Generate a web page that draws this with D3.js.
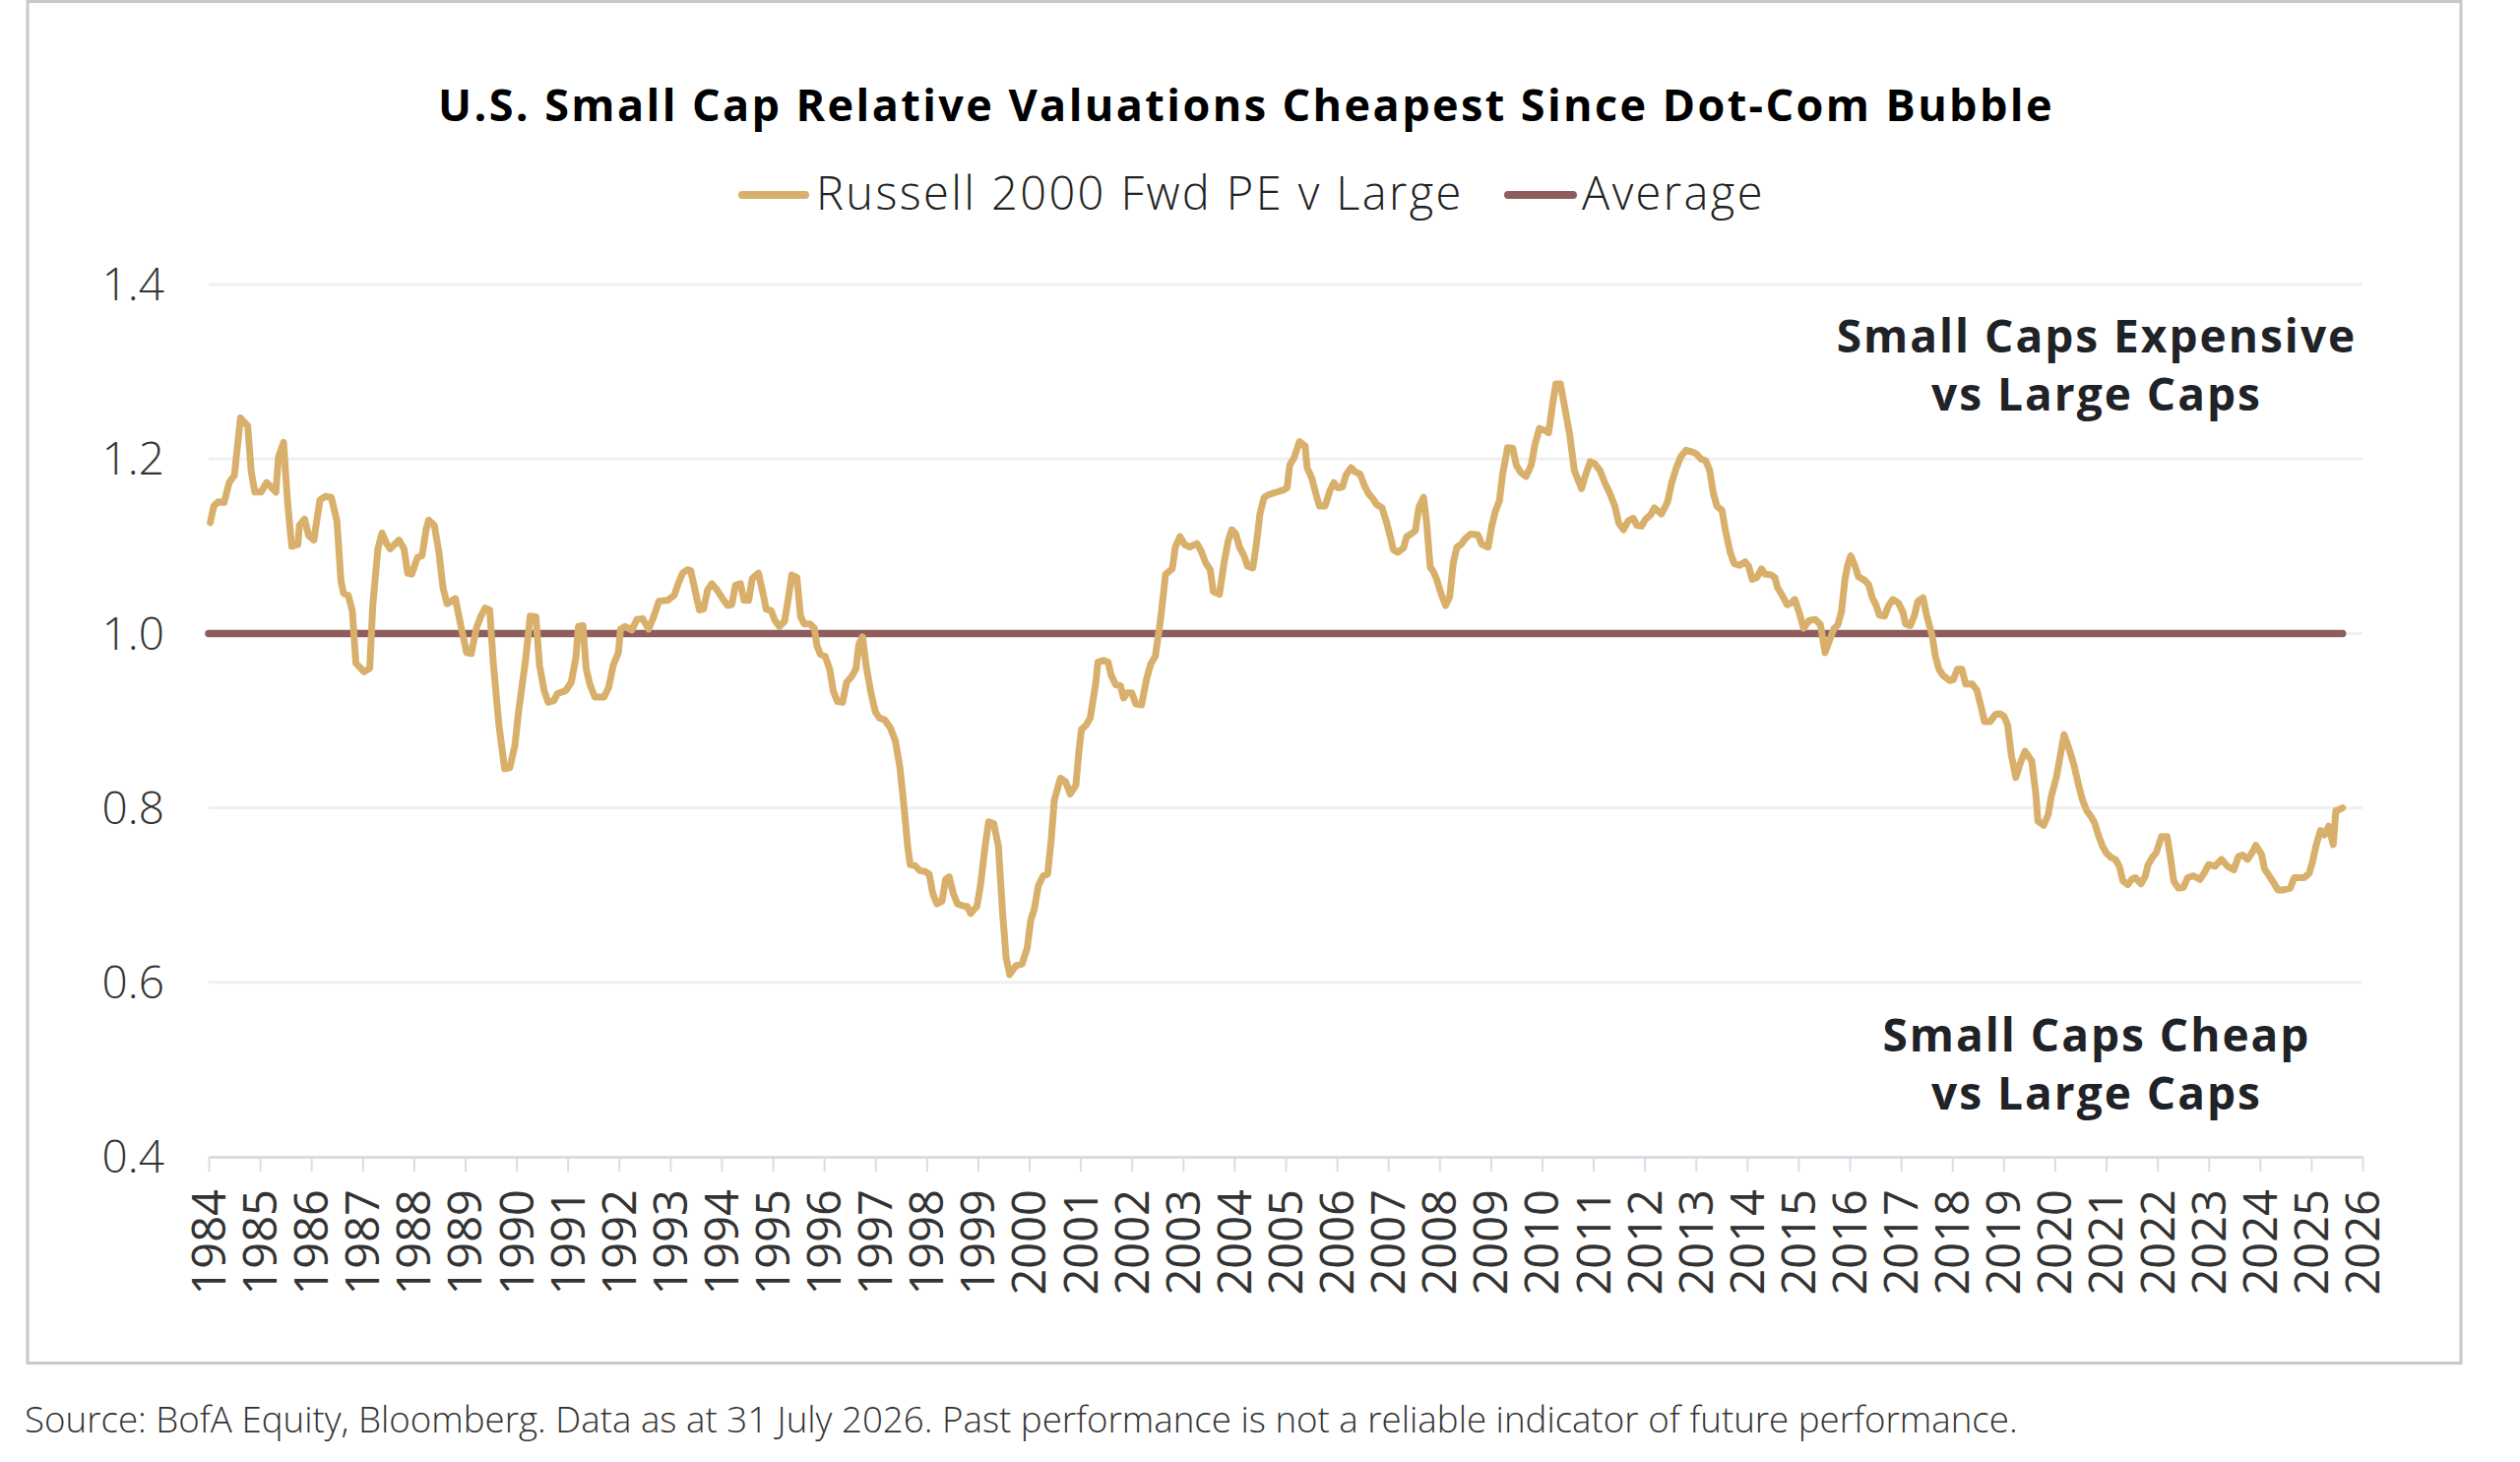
<!DOCTYPE html>
<html>
<head>
<meta charset="utf-8">
<script src="https://cdn.jsdelivr.net/npm/d3@7"></script>
<style>
  body { margin: 0; background: #fff; }
  text { font-family: "Open Sans", "Noto Sans", sans-serif; }
</style>
</head>
<body>
<div id="chart"></div>
<script>
// chart data (decimal year, ratio)
var titleText = "U.S. Small Cap Relative Valuations Cheapest Since Dot-Com Bubble";
var seriesNames = ["Russell 2000 Fwd PE v Large", "Average"];
var sourceText = "Source: BofA Equity, Bloomberg. Data as at 31 July 2026. Past performance is not a reliable indicator of future performance.";
var noteTop = ["Small Caps Expensive", "vs Large Caps"];
var noteBottom = ["Small Caps Cheap", "vs Large Caps"];

var yearTicks = d3.range(1984, 2027);
var valueTicks = [0.4, 0.6, 0.8, 1.0, 1.2, 1.4];
var averageValue = 1.0;

var years = [
  1984.03,1984.10,1984.19,1984.30,1984.40,1984.50,1984.62,1984.76,1984.83,1984.90,
  1985.02,1985.13,1985.31,1985.36,1985.46,1985.54,1985.62,1985.74,1985.77,1985.87,1985.95,
  1986.05,1986.17,1986.27,1986.39,1986.50,1986.58,1986.63,1986.72,1986.80,1986.87,
  1987.03,1987.14,1987.20,1987.30,1987.38,1987.47,1987.54,1987.71,1987.81,1987.88,1987.96,
  1988.07,1988.16,1988.24,1988.29,1988.40,1988.49,1988.57,1988.65,1988.81,1988.92,
  1989.03,1989.12,1989.22,1989.31,1989.39,1989.48,1989.55,1989.66,1989.77,1989.87,1989.97,
  1990.04,1990.18,1990.27,1990.38,1990.45,1990.54,1990.62,1990.73,1990.80,1990.90,1990.97,
  1991.07,1991.16,1991.21,1991.30,1991.36,1991.43,1991.53,1991.71,1991.80,1991.89,1991.99,
  1992.03,1992.12,1992.25,1992.35,1992.46,1992.58,1992.67,1992.78,1992.95,
  1993.08,1993.15,1993.24,1993.33,1993.40,1993.49,1993.57,1993.65,1993.73,1993.81,1993.91,
  1994.02,1994.12,1994.20,1994.27,1994.37,1994.44,1994.53,1994.60,1994.72,1994.81,1994.87,1994.97,
  1995.04,1995.13,1995.23,1995.30,1995.37,1995.47,1995.54,1995.61,1995.72,1995.81,1995.86,1995.93,
  1996.02,1996.11,1996.18,1996.26,1996.36,1996.44,1996.53,1996.62,1996.68,1996.75,1996.82,1996.91,
  1997.00,1997.08,1997.18,1997.29,1997.39,1997.48,1997.56,1997.63,1997.68,1997.77,1997.87,1997.97,
  1998.05,1998.12,1998.20,1998.30,1998.37,1998.44,1998.52,1998.60,1998.69,1998.79,1998.86,1998.98,
  1999.05,1999.14,1999.21,1999.31,1999.40,1999.48,1999.55,1999.62,1999.74,1999.86,1999.96,
  2000.03,2000.10,2000.18,2000.27,2000.36,2000.43,2000.49,2000.61,2000.71,2000.80,2000.91,2000.97,
  2001.02,2001.11,2001.19,2001.30,2001.34,2001.45,2001.54,2001.60,2001.69,2001.78,2001.84,2001.91,
  2002.00,2002.08,2002.19,2002.29,2002.37,2002.46,2002.56,2002.66,2002.79,2002.85,2002.94,
  2003.03,2003.13,2003.27,2003.35,2003.44,2003.53,2003.59,2003.71,2003.80,2003.88,2003.95,
  2004.03,2004.10,2004.19,2004.26,2004.36,2004.43,2004.50,2004.58,2004.67,2004.77,2004.88,2004.94,
  2005.03,2005.08,2005.17,2005.27,2005.38,2005.42,2005.51,2005.60,2005.66,2005.77,2005.86,2005.94,
  2006.02,2006.11,2006.18,2006.28,2006.36,2006.45,2006.54,2006.62,2006.71,2006.77,2006.88,2006.97,
  2007.05,2007.10,2007.19,2007.30,2007.36,2007.45,2007.53,2007.60,2007.69,2007.75,2007.82,2007.87,2007.94,
  2008.03,2008.12,2008.20,2008.27,2008.34,2008.42,2008.51,2008.61,2008.75,2008.83,2008.95,
  2009.02,2009.09,2009.17,2009.23,2009.33,2009.43,2009.50,2009.58,2009.69,2009.79,2009.86,2009.95,
  2010.05,2010.13,2010.20,2010.27,2010.36,2010.45,2010.54,2010.63,2010.77,2010.84,2010.94,
  2011.02,2011.13,2011.23,2011.32,2011.42,2011.50,2011.59,2011.68,2011.78,2011.85,2011.94,
  2012.02,2012.12,2012.19,2012.33,2012.45,2012.53,2012.62,2012.71,2012.81,2012.93,
  2013.01,2013.10,2013.19,2013.27,2013.34,2013.41,2013.51,2013.58,2013.67,2013.75,2013.85,2013.96,
  2014.03,2014.10,2014.19,2014.28,2014.35,2014.47,2014.54,2014.59,2014.69,2014.78,2014.86,2014.93,
  2015.02,2015.10,2015.21,2015.33,2015.43,2015.52,2015.60,2015.69,2015.77,2015.84,2015.91,2015.96,
  2016.02,2016.10,2016.17,2016.29,2016.37,2016.44,2016.51,2016.58,2016.68,2016.75,2016.84,2016.95,
  2017.04,2017.09,2017.18,2017.26,2017.33,2017.43,2017.50,2017.61,2017.67,2017.74,2017.82,2017.95,
  2018.02,2018.10,2018.19,2018.26,2018.39,2018.48,2018.57,2018.63,2018.74,2018.84,2018.92,
  2019.01,2019.08,2019.15,2019.24,2019.32,2019.42,2019.55,2019.63,2019.67,2019.78,2019.87,2019.93,
  2020.03,2020.11,2020.18,2020.27,2020.37,2020.46,2020.54,2020.62,2020.72,2020.78,2020.86,2020.93,
  2021.01,2021.10,2021.18,2021.26,2021.33,2021.42,2021.50,2021.57,2021.68,2021.76,2021.82,2021.90,2021.98,
  2022.08,2022.19,2022.25,2022.32,2022.41,2022.51,2022.59,2022.70,2022.83,2022.92,
  2023.00,2023.12,2023.25,2023.37,2023.49,2023.58,2023.66,2023.76,2023.85,2023.92,
  2024.03,2024.09,2024.17,2024.27,2024.35,2024.46,2024.59,2024.67,2024.86,2024.96,
  2025.02,2025.10,2025.18,2025.26,2025.34,2025.43,2025.48,2025.54,2025.61
];

var ratio = [
  1.127,1.146,1.151,1.150,1.173,1.181,1.247,1.238,1.185,1.162,
  1.162,1.173,1.162,1.202,1.219,1.149,1.100,1.102,1.124,1.131,1.112,
  1.107,1.153,1.157,1.156,1.129,1.060,1.046,1.044,1.026,0.966,
  0.956,0.960,1.032,1.097,1.115,1.103,1.097,1.107,1.097,1.069,1.068,
  1.087,1.089,1.119,1.130,1.124,1.093,1.052,1.034,1.040,1.008,
  0.978,0.977,1.006,1.020,1.029,1.027,0.966,0.895,0.845,0.846,0.871,
  0.909,0.970,1.020,1.019,0.964,0.935,0.921,0.923,0.931,0.933,0.935,
  0.944,0.972,1.008,1.009,0.960,0.942,0.927,0.927,0.938,0.964,0.978,
  1.005,1.008,1.004,1.016,1.017,1.005,1.018,1.037,1.038,
  1.044,1.056,1.069,1.073,1.072,1.048,1.027,1.028,1.050,1.057,1.050,
  1.040,1.032,1.033,1.055,1.057,1.038,1.038,1.063,1.069,1.046,1.028,1.026,
  1.015,1.008,1.014,1.039,1.067,1.064,1.020,1.011,1.011,1.006,0.986,0.976,
  0.974,0.959,0.934,0.922,0.921,0.944,0.950,0.959,0.988,0.996,0.963,0.933,
  0.910,0.903,0.901,0.892,0.877,0.846,0.801,0.756,0.735,0.734,0.728,0.727,
  0.724,0.702,0.690,0.693,0.718,0.721,0.702,0.690,0.688,0.687,0.679,0.687,
  0.711,0.756,0.784,0.782,0.756,0.681,0.628,0.609,0.619,0.621,0.639,
  0.671,0.684,0.711,0.722,0.724,0.764,0.809,0.834,0.830,0.816,0.826,0.865,
  0.890,0.895,0.903,0.944,0.967,0.969,0.967,0.952,0.941,0.940,0.926,0.932,
  0.932,0.919,0.918,0.948,0.965,0.974,1.015,1.068,1.074,1.099,1.111,
  1.102,1.099,1.103,1.095,1.081,1.073,1.048,1.045,1.081,1.106,1.119,
  1.114,1.099,1.089,1.077,1.075,1.102,1.137,1.156,1.159,1.161,1.163,1.164,
  1.167,1.193,1.202,1.220,1.215,1.190,1.178,1.158,1.146,1.146,1.163,1.173,
  1.167,1.168,1.182,1.190,1.185,1.183,1.169,1.160,1.154,1.148,1.144,1.127,
  1.109,1.096,1.093,1.098,1.111,1.114,1.118,1.145,1.156,1.127,1.076,1.072,1.063,
  1.046,1.032,1.042,1.081,1.099,1.102,1.109,1.114,1.113,1.102,1.099,
  1.123,1.140,1.152,1.182,1.213,1.212,1.193,1.185,1.180,1.193,1.216,1.235,
  1.233,1.230,1.260,1.286,1.286,1.257,1.228,1.187,1.166,1.180,1.197,
  1.195,1.187,1.172,1.161,1.146,1.126,1.119,1.129,1.132,1.124,1.123,
  1.131,1.136,1.144,1.137,1.151,1.173,1.190,1.203,1.210,1.208,
  1.206,1.200,1.198,1.187,1.161,1.146,1.141,1.117,1.093,1.080,1.078,1.082,
  1.077,1.062,1.064,1.074,1.068,1.067,1.064,1.053,1.043,1.033,1.035,1.039,
  1.023,1.006,1.015,1.016,1.010,0.978,0.991,1.005,1.010,1.025,1.063,1.078,
  1.089,1.078,1.065,1.061,1.056,1.041,1.033,1.021,1.020,1.031,1.039,1.035,
  1.024,1.011,1.009,1.020,1.037,1.041,1.021,0.997,0.974,0.959,0.952,0.946,
  0.947,0.959,0.959,0.942,0.942,0.935,0.914,0.899,0.899,0.907,0.908,
  0.905,0.895,0.861,0.835,0.850,0.865,0.854,0.816,0.785,0.780,0.792,0.813,
  0.835,0.861,0.884,0.869,0.850,0.827,0.809,0.797,0.789,0.782,0.767,0.756,
  0.748,0.743,0.741,0.733,0.716,0.712,0.718,0.720,0.713,0.721,0.735,0.743,0.749,
  0.767,0.767,0.745,0.716,0.708,0.709,0.720,0.722,0.718,0.726,
  0.735,0.733,0.741,0.733,0.729,0.744,0.746,0.741,0.749,0.757,
  0.747,0.730,0.723,0.714,0.706,0.706,0.708,0.720,0.720,0.725,
  0.737,0.758,0.774,0.769,0.779,0.758,0.797,0.798,0.800
];

var lineColor = "#d8b06b";
var avgColor = "#8e5d5e";

var W = 2560, H = 1485;
var plot = {left: 212, right: 2400, top: 289, bottom: 1175};

var svg = d3.select("#chart")
  .append("svg")
  .attr("width", W)
  .attr("height", H);

// outer frame
svg.append("rect")
  .attr("x", 28).attr("y", 1.5)
  .attr("width", 2472).attr("height", 1383)
  .attr("fill", "none")
  .attr("stroke", "#c8c8c8")
  .attr("stroke-width", 3);

var x = d3.scaleLinear()
  .domain([1984, 2026])
  .range([plot.left, plot.right]);

var y = d3.scaleLinear()
  .domain([0.4, 1.4])
  .range([plot.bottom, plot.top]);

// horizontal grid lines
svg.append("g")
  .selectAll("line")
  .data(valueTicks.filter(function(d) { return d > 0.4; }))
  .enter()
  .append("line")
  .attr("x1", plot.left).attr("x2", plot.right)
  .attr("y1", function(d) { return y(d); })
  .attr("y2", function(d) { return y(d); })
  .attr("stroke", "#f0f0f0")
  .attr("stroke-width", 3);

// y labels
svg.append("g")
  .selectAll("text")
  .data(valueTicks)
  .enter()
  .append("text")
  .attr("x", 167)
  .attr("y", function(d) { return y(d); })
  .attr("dy", "0.35em")
  .attr("text-anchor", "end")
  .style("font-size", "46px")
  .style("font-weight", 300)
  .style("fill", "#333")
  .text(function(d) { return d.toFixed(1); });

// x axis
var xAxis = svg.append("g")
  .attr("transform", "translate(0," + plot.bottom + ")")
  .call(d3.axisBottom(x)
    .tickValues(yearTicks)
    .tickSize(15)
    .tickSizeOuter(0)
    .tickFormat(function(d) { return d; }));

xAxis.select(".domain").attr("stroke", "#d9dde3").attr("stroke-width", 3);
xAxis.selectAll(".tick line").attr("stroke", "#d9dde3").attr("stroke-width", 2);
xAxis.selectAll(".tick text")
  .attr("transform", "rotate(-90)")
  .attr("x", -33)
  .attr("y", 0)
  .attr("dy", "0.35em")
  .attr("text-anchor", "end")
  .style("font-family", "\"Open Sans\", sans-serif")
  .style("font-size", "47px")
  .style("fill", "#333");

// average line
svg.append("line")
  .attr("x1", x(years[0] - 0.03)).attr("x2", x(years[years.length - 1]))
  .attr("y1", y(averageValue)).attr("y2", y(averageValue))
  .attr("stroke", avgColor)
  .attr("stroke-width", 7.5)
  .attr("stroke-linecap", "round");

// main series
var data = years.map(function(d, i) { return {year: d, value: ratio[i]}; });

svg.append("path")
  .datum(data)
  .attr("fill", "none")
  .attr("stroke", lineColor)
  .attr("stroke-width", 7)
  .attr("stroke-linejoin", "round")
  .attr("stroke-linecap", "round")
  .attr("d", d3.line()
    .x(function(d) { return x(d.year); })
    .y(function(d) { return y(d.value); }));

// title
svg.append("text")
  .attr("x", 1266).attr("y", 123)
  .attr("text-anchor", "middle")
  .style("font-size", "45px")
  .style("font-weight", 700)
  .style("letter-spacing", "2.4px")
  .style("fill", "#000")
  .text(titleText);

// legend
var legend = svg.append("g");
var legendItems = [
  {name: seriesNames[0], color: lineColor, x1: 754, x2: 818, tx: 829},
  {name: seriesNames[1], color: avgColor, x1: 1532, x2: 1598, tx: 1607}
];
legend.selectAll("line")
  .data(legendItems)
  .enter()
  .append("line")
  .attr("x1", function(d) { return d.x1; })
  .attr("x2", function(d) { return d.x2; })
  .attr("y1", 198).attr("y2", 198)
  .attr("stroke", function(d) { return d.color; })
  .attr("stroke-width", 8)
  .attr("stroke-linecap", "round");
legend.selectAll("text")
  .data(legendItems)
  .enter()
  .append("text")
  .attr("x", function(d) { return d.tx; })
  .attr("y", 213)
  .style("font-size", "47px")
  .style("font-weight", 300)
  .style("letter-spacing", "2.4px")
  .style("fill", "#222")
  .text(function(d) { return d.name; });

// annotations
function note(lines, y0) {
  svg.append("g")
    .selectAll("text")
    .data(lines)
    .enter()
    .append("text")
    .attr("x", 2130)
    .attr("y", function(d, i) { return y0 + i * 59; })
    .attr("text-anchor", "middle")
    .style("font-size", "46px")
    .style("font-weight", 700)
    .style("letter-spacing", "2px")
    .style("fill", "#1f2226")
    .text(function(d) { return d; });
}
note(noteTop, 358);
note(noteBottom, 1068);

// source line
svg.append("text")
  .attr("x", 25).attr("y", 1455)
  .style("font-size", "36.7px")
  .style("font-weight", 300)
  .style("fill", "#333")
  .text(sourceText);
</script>
</body>
</html>
